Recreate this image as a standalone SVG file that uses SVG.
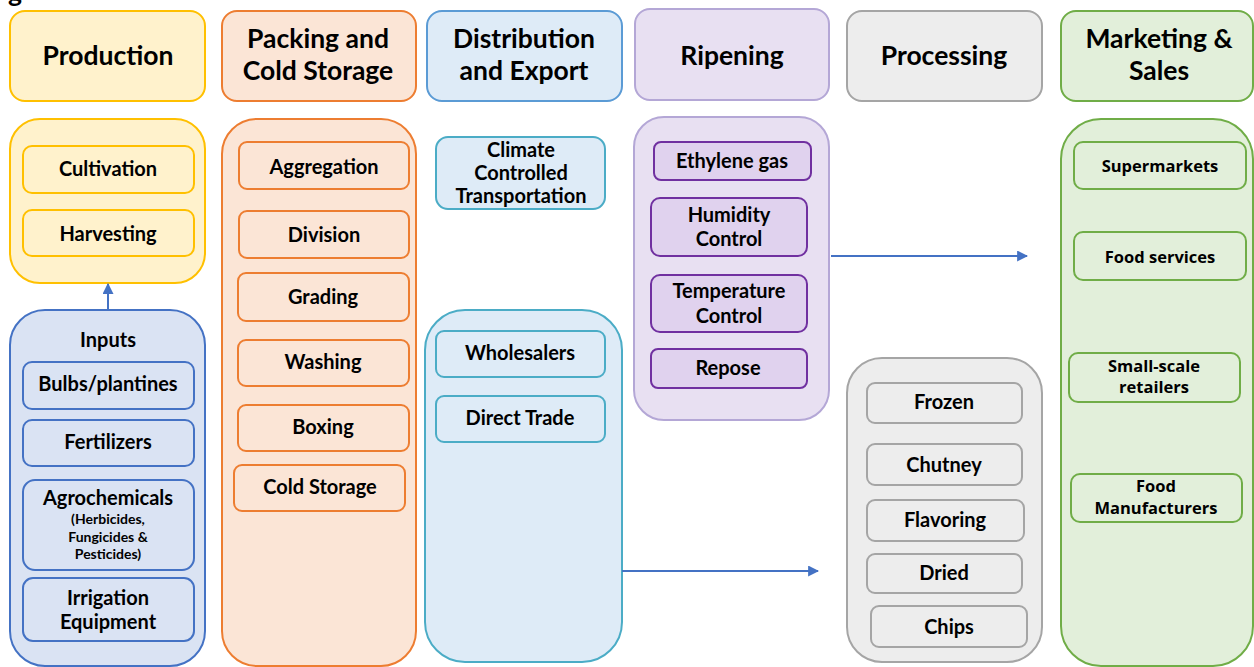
<svg xmlns="http://www.w3.org/2000/svg" width="1254" height="667" viewBox="0 0 1254 667">
<style>
text{font-family:Lato,"Open Sans","DejaVu Sans",sans-serif;font-weight:bold;fill:#000;text-anchor:middle}
.h{font-size:26.5px}
.s{font-size:20px}
.m{font-size:16.5px;font-family:"Open Sans",Lato,sans-serif;font-weight:bold}
.t{font-size:14px}
.yel{fill:#FFF2CC;stroke:#FFC000;stroke-width:2}
.org{fill:#FBE5D6;stroke:#ED7D31;stroke-width:2}
.blu{fill:#DEEBF7;stroke:#5B9BD5;stroke-width:2}
.inp{fill:#DAE3F3;stroke:#4472C4;stroke-width:2}
.tea{fill:#DEEBF7;stroke:#4BACC6;stroke-width:2}
.pur{fill:#E8E0F2;stroke:#B4A7D6;stroke-width:2}
.pu2{fill:#E0D2EE;stroke:#7030A0;stroke-width:2}
.gry{fill:#EDEDED;stroke:#A5A5A5;stroke-width:2}
.grn{fill:#E2EFDA;stroke:#70AD47;stroke-width:2}
.c{stroke:#4472C4;stroke-width:2;fill:none}
</style>
<defs>
<marker id="ah" viewBox="0 0 10 10" refX="9" refY="5" markerWidth="5.5" markerHeight="5.5" orient="auto"><path d="M0,0L10,5L0,10z" fill="#4472C4"/></marker>
</defs>
<text x="8" y="2" class="h" style="text-anchor:start">g</text>

<g id="production-header"><rect class="yel" x="10" y="11" width="195" height="90" rx="15"/><text class="h" x="108" y="65">Production</text></g>
<g id="packing-header"><rect class="org" x="222" y="11" width="194" height="90" rx="15"/><text class="h" x="318" y="48">Packing and</text><text class="h" x="318" y="80">Cold Storage</text></g>
<g id="distribution-header"><rect class="blu" x="427" y="11" width="195" height="90" rx="15"/><text class="h" x="524" y="48">Distribution</text><text class="h" x="524" y="80">and Export</text></g>
<g id="ripening-header"><rect class="pur" x="635" y="9" width="194" height="91" rx="15"/><text class="h" x="732" y="65">Ripening</text></g>
<g id="processing-header"><rect class="gry" x="847" y="11" width="195" height="90" rx="15"/><text class="h" x="944" y="65">Processing</text></g>
<g id="marketing-header"><rect class="grn" x="1061" y="11" width="192" height="90" rx="15"/><text class="h" x="1159" y="48">Marketing &amp;</text><text class="h" x="1159" y="80">Sales</text></g>

<g id="production"><rect class="yel" x="10" y="119" width="195" height="164" rx="30"/>
<rect class="yel" x="23" y="146" width="171" height="47" rx="9"/><text class="s" x="108" y="176">Cultivation</text>
<rect class="yel" x="23" y="210" width="171" height="46" rx="9"/><text class="s" x="108" y="241">Harvesting</text></g>

<g id="inputs"><rect class="inp" x="10" y="310" width="195" height="356" rx="35"/>
<text class="s" x="108" y="347">Inputs</text>
<rect class="inp" x="23" y="362" width="171" height="47" rx="9"/><text class="s" x="108" y="391">Bulbs/plantines</text>
<rect class="inp" x="23" y="420" width="171" height="46" rx="9"/><text class="s" x="108" y="449">Fertilizers</text>
<rect class="inp" x="23" y="480" width="171" height="90" rx="12"/><text class="s" x="108" y="505">Agrochemicals</text>
<text class="t" x="108" y="524">(Herbicides,</text><text class="t" x="108" y="542">Fungicides &amp;</text><text class="t" x="108" y="559">Pesticides)</text>
<rect class="inp" x="23" y="578" width="171" height="63" rx="10"/><text class="s" x="108" y="605">Irrigation</text><text class="s" x="108" y="629">Equipment</text></g>

<g id="packing"><rect class="org" x="222" y="119" width="194" height="547" rx="35"/>
<rect class="org" x="239" y="142" width="170" height="47" rx="8"/><text class="s" x="324" y="174">Aggregation</text>
<rect class="org" x="239" y="211" width="170" height="47" rx="8"/><text class="s" x="324" y="242">Division</text>
<rect class="org" x="238" y="273" width="171" height="48" rx="8"/><text class="s" x="323" y="304">Grading</text>
<rect class="org" x="238" y="340" width="171" height="46" rx="8"/><text class="s" x="323" y="369">Washing</text>
<rect class="org" x="238" y="405" width="171" height="46" rx="8"/><text class="s" x="323" y="434">Boxing</text>
<rect class="org" x="234" y="465" width="171" height="46" rx="8"/><text class="s" x="320" y="494">Cold Storage</text></g>

<g id="climate"><rect class="tea" x="436" y="137" width="169" height="72" rx="12"/>
<text class="s" x="521" y="157">Climate</text><text class="s" x="521" y="180">Controlled</text><text class="s" x="521" y="203">Transportation</text></g>

<g id="distribution"><rect class="tea" x="425" y="310" width="197" height="352" rx="40"/>
<rect class="tea" x="436" y="331" width="169" height="46" rx="8"/><text class="s" x="520" y="360">Wholesalers</text>
<rect class="tea" x="436" y="396" width="169" height="46" rx="8"/><text class="s" x="520" y="425">Direct Trade</text></g>

<g id="ripening"><rect class="pur" x="634" y="117" width="195" height="303" rx="30"/>
<rect class="pu2" x="654" y="142" width="157" height="38" rx="7"/><text class="s" x="732" y="168">Ethylene gas</text>
<rect class="pu2" x="651" y="198" width="156" height="58" rx="9"/><text class="s" x="729" y="222">Humidity</text><text class="s" x="729" y="246">Control</text>
<rect class="pu2" x="651" y="275" width="156" height="57" rx="9"/><text class="s" x="729" y="298">Temperature</text><text class="s" x="729" y="323">Control</text>
<rect class="pu2" x="651" y="349" width="156" height="39" rx="7"/><text class="s" x="728" y="375">Repose</text></g>

<g id="processing"><rect class="gry" x="847" y="358" width="195" height="304" rx="35"/>
<rect class="gry" x="867" y="383" width="155" height="40" rx="8"/><text class="s" x="944" y="409">Frozen</text>
<rect class="gry" x="867" y="444" width="155" height="41" rx="8"/><text class="s" x="944" y="472">Chutney</text>
<rect class="gry" x="867" y="500" width="157" height="41" rx="8"/><text class="s" x="945" y="527">Flavoring</text>
<rect class="gry" x="867" y="554" width="155" height="39" rx="8"/><text class="s" x="944" y="580">Dried</text>
<rect class="gry" x="871" y="606" width="156" height="41" rx="8"/><text class="s" x="949" y="634">Chips</text></g>

<g id="marketing"><rect class="grn" x="1061" y="119" width="192" height="547" rx="40"/>
<rect class="grn" x="1074" y="142" width="172" height="47" rx="9"/><text class="m" x="1160" y="172">Supermarkets</text>
<rect class="grn" x="1074" y="232" width="172" height="48" rx="9"/><text class="m" x="1160" y="263">Food services</text>
<rect class="grn" x="1069" y="353" width="171" height="49" rx="9"/><text class="m" x="1154" y="372">Small-scale</text><text class="m" x="1154" y="393">retailers</text>
<rect class="grn" x="1071" y="474" width="171" height="48" rx="9"/><text class="m" x="1156" y="492">Food</text><text class="m" x="1156" y="514">Manufacturers</text></g>

<g id="connectors">
<line class="c" x1="108" y1="310" x2="108" y2="284" marker-end="url(#ah)"/>
<line class="c" x1="622" y1="571" x2="818" y2="571" marker-end="url(#ah)"/>
<line class="c" x1="831" y1="256" x2="1027" y2="256" marker-end="url(#ah)"/>
</g>
</svg>
